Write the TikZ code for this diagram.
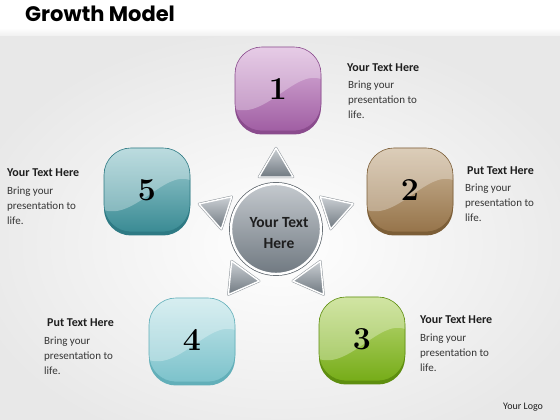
\documentclass[tikz,border=0pt]{standalone}
\usepackage{fontspec}
\newfontfamily\carl{Carlito}
\newfontfamily\popp{Poppins}
\usetikzlibrary{calc}
\definecolor{pA}{HTML}{DCB6DC}\definecolor{pB}{HTML}{A05EA3}\definecolor{pC}{HTML}{8A4B8D}
\definecolor{bA}{HTML}{CDB89B}\definecolor{bB}{HTML}{96744A}\definecolor{bC}{HTML}{7C5E37}
\definecolor{gA}{HTML}{BEDA7C}\definecolor{gB}{HTML}{76AC18}\definecolor{gC}{HTML}{5E8E0F}
\definecolor{lA}{HTML}{C6E7EB}\definecolor{lB}{HTML}{7CC2CB}\definecolor{lC}{HTML}{62AFB9}
\definecolor{tA}{HTML}{9FCDD2}\definecolor{tB}{HTML}{3A8B94}\definecolor{tC}{HTML}{2E7A84}
\definecolor{cA}{HTML}{C4C9CE}\definecolor{cB}{HTML}{707981}\definecolor{cC}{HTML}{565E65}
\definecolor{txt}{HTML}{1E1E1E}
\tikzset{
  sq/.style n args={3}{minimum width=86pt, minimum height=84pt, inner sep=0pt,
    rounded corners=27pt, top color=#1, bottom color=#2, draw=#3, line width=0.6pt,
    preaction={fill=#3, transform canvas={yshift=-3.5pt}},
    path picture={\fill[white,opacity=0.3,sharp corners]
      ([shift={(-2pt,2pt)}]path picture bounding box.north west)
      -- ([yshift=-62pt]path picture bounding box.north west)
      .. controls ([shift={(30pt,-72pt)}]path picture bounding box.north west)
      and ([shift={(-25pt,-22pt)}]path picture bounding box.north east)
      .. ([yshift=-32pt]path picture bounding box.north east)
      -- ([shift={(2pt,2pt)}]path picture bounding box.north east) -- cycle;},
    font=\fontsize{32}{32}\selectfont\bfseries, text=black},
  circ/.style={circle, minimum size=90pt, inner sep=0pt, top color=cA, bottom color=cB,
    draw=white, line width=2.4pt, preaction={draw=cC, line width=3.8pt}},
  ctext/.style={inner sep=0pt, align=center, font=\carl\bfseries\fontsize{15.5}{21.5}\selectfont, text=txt},
  tri/.style={top color=cA!90!white, bottom color=cB, draw=white, line width=1.4pt,
    line join=round, preaction={draw=cB!80, line width=2.4pt, line join=round}},
  head/.style={anchor=base west, inner sep=0pt, font=\carl\bfseries\fontsize{12}{15}\selectfont, text=txt},
  body/.style={anchor=north west, inner sep=0pt, align=left, font=\carl\fontsize{11}{15}\selectfont, text=txt!90}
}
\begin{document}
\begin{tikzpicture}[x=1pt,y=1pt]
\useasboundingbox (0,0) rectangle (560,420);
\fill[white] (0,0) rectangle (560,420);
\shade[inner color=white, outer color=black!9] (-40,-40) rectangle (600,392);
\fill[white] (0,392) rectangle (560,420);
\shade[top color=white, bottom color=black!6] (0,384) rectangle (560,392);
% title
\node[anchor=base west, inner sep=0pt, font=\popp\bfseries\fontsize{21}{22}\selectfont, text=black] (title) at (25,398) {Growth Model};
% squares
\node[sq={pA}{pB}{pC}] (s1) at (278,331) {1};
\node[sq={bA}{bB}{bC}] (s2) at (410,230) {2};
\node[sq={gA}{gB}{gC}] (s3) at (362,81) {3};
\node[sq={lA}{lB}{lC}] (s4) at (192,80) {4};
\node[sq={tA}{tB}{tC}] (s5) at (147,230) {5};
% center
\node[circ] (c) at (276,191) {};
\node[ctext] (ct) at ([shift={(3pt,-4pt)}]c.center) {Your Text\\Here};
% triangles
\foreach \a in {90,18,162,234,306}{
  \begin{scope}[shift={(c.center)}, rotate=\a]
    \path[tri] (52,17) -- (81,0) -- (52,-17) -- cycle;
  \end{scope}
}
% texts
\node[head] (h1) at (347,348) {Your Text Here};
\node[body] (b1) at (348,339.5) {Bring your\\presentation to\\life.};
\node[head] (h2) at (467,245) {Put Text Here};
\node[body] (b2) at (465,236.5) {Bring your\\presentation to\\life.};
\node[head] (h5) at (7,243) {Your Text Here};
\node[body] (b5) at (7,233.5) {Bring your\\presentation to\\life.};
\node[head] (h4) at (47,93) {Put Text Here};
\node[body] (b4) at (44,83.5) {Bring your\\presentation to\\life.};
\node[head] (h3) at (420,96) {Your Text Here};
\node[body] (b3) at (420,86.5) {Bring your\\presentation to\\life.};
\node[anchor=base west, inner sep=0pt, font=\carl\fontsize{10}{12}\selectfont, text=txt] (logo) at (503,10) {Your Logo};
\end{tikzpicture}
\end{document}
